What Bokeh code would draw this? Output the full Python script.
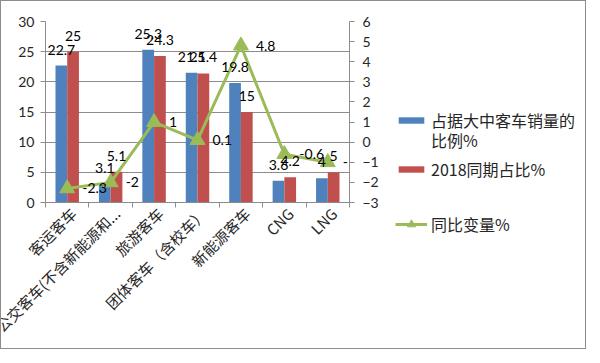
import math
from bokeh.plotting import figure
from bokeh.layouts import row
from bokeh.models import (Range1d, LinearAxis, Legend, LegendItem, ColumnDataSource, FixedTicker)
from bokeh.core.properties import value
from bokeh.embed import file_html
from bokeh.resources import INLINE

# ---- data ----
categories = ["客运客车", "公交客车(不含新能源和...", "旅游客车", "团体客车（含校车）", "新能源客车", "CNG", "LNG"]
share_of_sales = [22.7, 3.1, 25.3, 21.5, 19.8, 3.6, 4]
share_2018 = [25, 5.1, 24.3, 21.4, 15, 4.2, 5]
yoy_change = [-2.3, -2, 1, 0.1, 4.8, -0.6, -1]
left_ticks = [0, 5, 10, 15, 20, 25, 30]
right_ticks = [-3, -2, -1, 0, 1, 2, 3, 4, 5, 6]
series_names = ["占据大中客车销量的", "比例%", "2018同期占比%", "同比变量%"]

n = len(categories)
bw = 0.27
centers = [i + 0.5 for i in range(n)]
label_shift = 0.14
fmt = lambda v: f"{v:g}"
src = ColumnDataSource(dict(
    x=centers, xa=[c - bw / 2 for c in centers], xb=[c + bw / 2 for c in centers],
    a=share_of_sales, b=share_2018, c=yoy_change,
    la=[fmt(v) for v in share_of_sales], lb=[fmt(v) for v in share_2018],
    lc=[fmt(v) for v in yoy_change],
))

BLUE, RED, GREEN = "#4F81BD", "#C0504D", "#9BBB59"
NUM_FONT = "Lato"
CJK_FONT = "Noto Sans CJK SC"
TXT = "#262626"
GRID = "#8c8c8c"

p = figure(width=382, height=347, output_backend="svg", toolbar_location=None,
           x_range=Range1d(0, n), y_range=Range1d(0, 30),
           x_axis_location=None, y_axis_location="left",
           min_border_left=44, min_border_top=20, min_border_right=34, min_border_bottom=146)
p.extra_y_ranges = {"yoy": Range1d(-3, 6)}
p.outline_line_color = None

# left axis
ya = p.yaxis[0]
ya.ticker = FixedTicker(ticks=left_ticks)
ya.minor_tick_line_color = None
ya.major_tick_in = 0
ya.major_tick_out = 5
ya.axis_line_color = GRID
ya.major_tick_line_color = GRID
ya.major_label_text_font = NUM_FONT
ya.major_label_text_font_size = "14px"
ya.major_label_text_color = TXT
ya.major_label_standoff = 6

# right axis
ra = LinearAxis(y_range_name="yoy", ticker=FixedTicker(ticks=right_ticks))
ra.minor_tick_line_color = None
ra.major_tick_in = 0
ra.major_tick_out = 5
ra.axis_line_color = GRID
ra.major_tick_line_color = GRID
ra.major_label_text_font = NUM_FONT
ra.major_label_text_font_size = "14px"
ra.major_label_text_color = TXT
ra.major_label_standoff = 8
p.add_layout(ra, "right")

# bottom: tick-only axis at category boundaries, then category labels
ta = LinearAxis(ticker=FixedTicker(ticks=list(range(n + 1))))
ta.major_label_overrides = {i: "" for i in range(n + 1)}
ta.major_label_standoff = 0
ta.major_label_text_font_size = "1px"
ta.minor_tick_line_color = None
ta.major_tick_in = 0
ta.major_tick_out = 5
ta.axis_line_color = GRID
ta.major_tick_line_color = GRID
p.add_layout(ta, "below")

label_pos = [c + label_shift for c in centers]
ca = LinearAxis(ticker=FixedTicker(ticks=label_pos))
ca.major_label_overrides = {c: name for c, name in zip(label_pos, categories)}
ca.axis_line_color = None
ca.major_tick_line_color = None
ca.minor_tick_line_color = None
ca.major_label_orientation = math.pi / 4
ca.major_label_text_font = CJK_FONT
ca.major_label_text_font_size = "15px"
ca.major_label_text_color = TXT
ca.major_label_standoff = -3
p.add_layout(ca, "below")

p.ygrid.grid_line_color = GRID
p.xgrid.grid_line_color = None

# bars
p.vbar(x="xa", top="a", width=bw, source=src, fill_color=BLUE, line_color=None)
p.vbar(x="xb", top="b", width=bw, source=src, fill_color=RED, line_color=None)

# line
p.line(x="x", y="c", y_range_name="yoy", source=src, line_color=GREEN, line_width=3)
p.scatter(x="x", y="c", y_range_name="yoy", source=src, marker="triangle", size=15,
          fill_color=GREEN, line_color=GREEN)

# data labels
lab_kw = dict(text_font=value(NUM_FONT), text_font_size="14px", text_color="#000000",
              text_baseline="middle", source=src)
p.text(x="xa", y="a", text="la", text_align="center", y_offset=-16, **lab_kw)
p.text(x="xb", y="b", text="lb", text_align="center", y_offset=-16, **lab_kw)
p.text(x="x", y="c", y_range_name="yoy", text="lc", text_align="left", x_offset=15, **lab_kw)

# ---- legend panel (separate figure to the right) ----
lf = figure(width=202, height=347, output_backend="svg", toolbar_location=None,
            x_range=Range1d(0, 1), y_range=Range1d(0, 1),
            x_axis_location=None, y_axis_location=None, min_border=0)
lf.outline_line_color = None
lf.grid.visible = False
has_fa = "frame_align" in lf.properties()
if has_fa:
    lf.frame_align = False
    p.frame_align = False
base_bottom = 349 if has_fa else 203   # page y of the legend figure's frame bottom

# legend-only glyphs (placed outside the visible range of the legend figure)
off = [-10.0]
g_blue = lf.vbar(x=off, top=off, width=0.1, fill_color=BLUE, line_color=None)
g_blank = lf.vbar(x=off, top=off, width=0.1, fill_alpha=0, line_alpha=0)
g_red = lf.vbar(x=off, top=off, width=0.1, fill_color=RED, line_color=None)
g_line = lf.line(x=[-10.0, -9.0], y=[-10.0, -10.0], line_color=GREEN, line_width=3)
g_pts = lf.scatter(x=off, y=off, marker="triangle", fill_color=GREEN, line_color=GREEN)

leg_kw = dict(glyph_width=32, glyph_height=8, label_standoff=4, label_height=20,
              label_text_font=CJK_FONT, label_text_font_size="16px", label_text_color=TXT,
              border_line_color=None, background_fill_alpha=0, spacing=0, margin=0, padding=0)
LX = 12
HALF = 11.5
def loc(center_y):
    return (LX, base_bottom - (center_y + HALF))

lf.add_layout(Legend(items=[LegendItem(label=series_names[0], renderers=[g_blue])],
                     location=loc(121.7), **leg_kw), "center")
lf.add_layout(Legend(items=[LegendItem(label=series_names[1], renderers=[g_blank])],
                     location=loc(141.7), **leg_kw), "center")
lf.add_layout(Legend(items=[LegendItem(label=series_names[2], renderers=[g_red])],
                     location=loc(170), **leg_kw), "center")
leg_kw_line = dict(leg_kw, glyph_height=20)
lf.add_layout(Legend(items=[LegendItem(label=series_names[3], renderers=[g_line, g_pts])],
                     location=loc(225), **leg_kw_line), "center")

layout = row(p, lf)
layout.styles = {"border": "1px solid #8c8c8c"}

open("out.html", "w").write(file_html(layout, INLINE))
